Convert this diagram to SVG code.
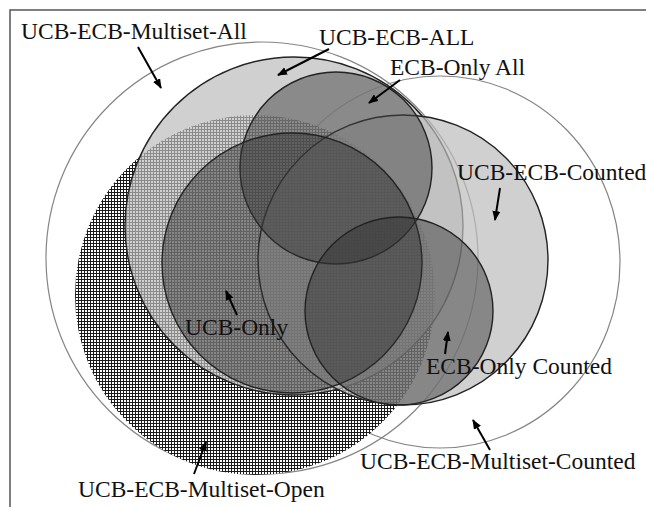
<svg xmlns="http://www.w3.org/2000/svg" width="646" height="507" viewBox="0 0 646 507">
<style>
 .lbl{font-family:"Liberation Serif","Times New Roman",serif;font-size:23.5px;fill:#111}
 .thin{fill:none;stroke:#858585;stroke-width:1.2}
 .light{fill:#bcbcbc;fill-opacity:0.7;stroke:#222;stroke-width:1.4}
 .dark{fill:#333;fill-opacity:0.47;stroke:#222;stroke-width:1.4}
 .arrow{stroke:#000;stroke-width:2;fill:none;marker-end:url(#ah)}
 .frame{stroke:#555;stroke-width:1.5;fill:none}
</style>
<defs>
 <pattern id="hatch" patternUnits="userSpaceOnUse" width="3" height="3">
  <rect width="3" height="3" fill="#1a1a1a"/>
  <rect x="1" y="1" width="2" height="2" fill="#ffffff"/>
 </pattern>
 <marker id="ah" markerUnits="userSpaceOnUse" markerWidth="10" markerHeight="8" refX="9" refY="4" orient="auto">
  <path d="M0,0 L10,4 L0,8 z" fill="#000"/>
 </marker>
</defs>
<rect width="646" height="507" fill="#fff"/>
<path class="frame" d="M10,507 V10 H646"/>

<g id="multiset-all">
 <circle class="thin" cx="262" cy="258" r="216"/>
 <text class="lbl" x="21" y="39">UCB-ECB-Multiset-All</text>
</g>
<g id="multiset-counted">
 <ellipse class="thin" cx="440" cy="262" rx="180" ry="186"/>
 <text class="lbl" x="360" y="469">UCB-ECB-Multiset-Counted</text>
</g>
<g id="multiset-open">
 <circle cx="255" cy="295" r="180" fill="url(#hatch)"/>
 <text class="lbl" x="78" y="497">UCB-ECB-Multiset-Open</text>
</g>
<g id="ucb-ecb-all">
 <circle class="light" cx="294" cy="226" r="169"/>
 <text class="lbl" x="319" y="45">UCB-ECB-ALL</text>
</g>
<g id="ucb-ecb-counted">
 <circle class="light" cx="403" cy="260" r="145"/>
 <text class="lbl" x="457" y="180">UCB-ECB-Counted</text>
</g>
<g id="ecb-only-all">
 <circle class="dark" cx="336" cy="168" r="96" style="fill:#444;fill-opacity:0.5"/>
 <text class="lbl" x="390" y="75">ECB-Only All</text>
</g>
<g id="ucb-only">
 <circle class="dark" cx="292" cy="263" r="130"/>
 <text class="lbl" x="185" y="335">UCB-Only</text>
</g>
<g id="ecb-only-counted">
 <circle class="dark" cx="399" cy="311" r="94" style="fill-opacity:0.46"/>
 <text class="lbl" x="426" y="374">ECB-Only Counted</text>
</g>

<g id="connectors">
 <line class="arrow" x1="138" y1="47" x2="161" y2="88"/>
 <line class="arrow" x1="329" y1="49" x2="278" y2="75"/>
 <line class="arrow" x1="400" y1="80" x2="369" y2="103"/>
 <line class="arrow" x1="500" y1="188" x2="495" y2="220"/>
 <line class="arrow" x1="237" y1="315" x2="226" y2="291"/>
 <line class="arrow" x1="445" y1="354" x2="448" y2="332"/>
 <line class="arrow" x1="490" y1="450" x2="473" y2="420"/>
 <line class="arrow" x1="194" y1="474" x2="206" y2="442"/>
</g>
</svg>
